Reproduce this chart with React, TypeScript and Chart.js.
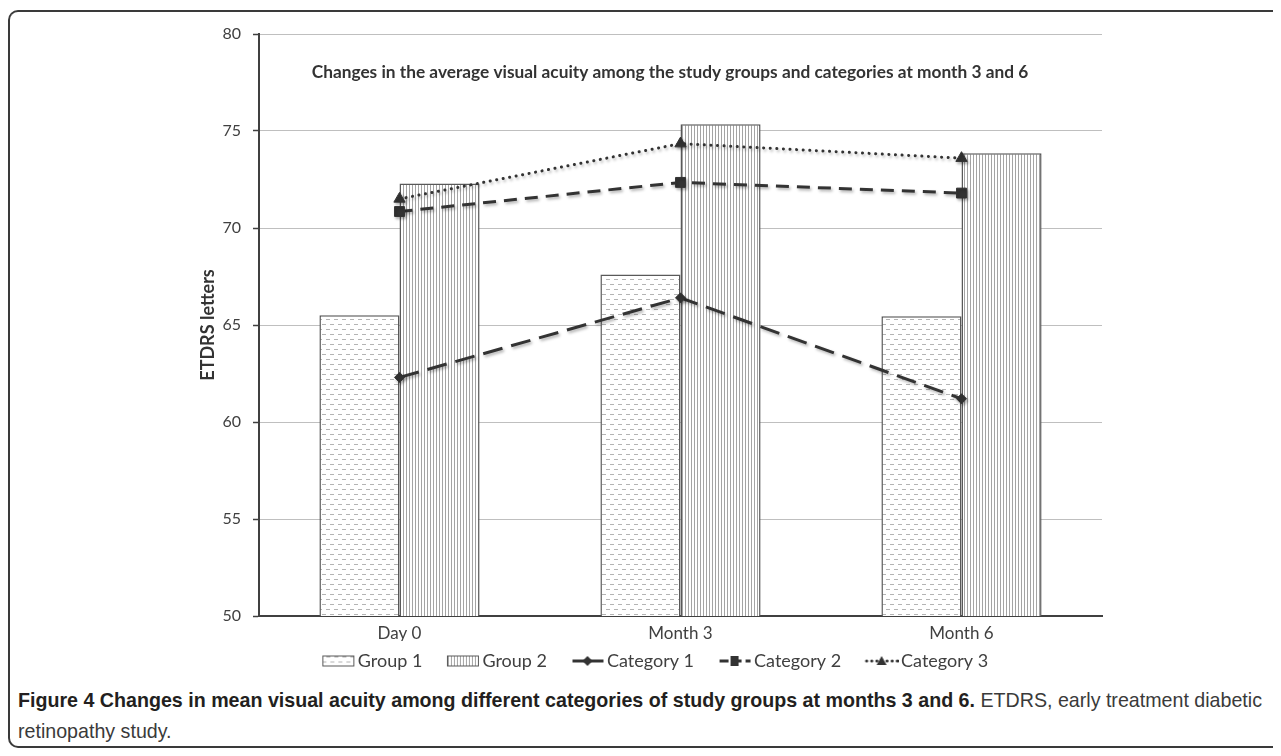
import React, { useEffect, useRef } from "react";
import { Chart, registerables } from "chart.js";

Chart.register(...registerables);

const categories = ["Day 0", "Month 3", "Month 6"];
const group1 = [65.5, 67.6, 65.45];
const group2 = [72.3, 75.35, 73.85];
const category1 = [62.3, 66.4, 61.2];
const category2 = [70.85, 72.35, 71.8];
const category3 = [71.5, 74.35, 73.6];
const yTicks = [50, 55, 60, 65, 70, 75, 80];
const seriesLabels = ["Group 1", "Group 2", "Category 1", "Category 2", "Category 3"];
const chartTitle =
  "Changes in the average visual acuity among the study groups and categories at month 3 and 6";
const yAxisTitle = "ETDRS letters";
const captionBold =
  "Figure 4 Changes in mean visual acuity among different categories of study groups at months 3 and 6.";
const captionLine1 = " ETDRS, early treatment diabetic";
const captionLine2 = "retinopathy study.";

const FONT = "Lato, 'Open Sans', sans-serif";
const TEXT = "#404040";
const LINE = "#333333";

function makeDashPattern(): CanvasPattern {
  const c = document.createElement("canvas");
  c.width = 8;
  c.height = 10;
  const g = c.getContext("2d")!;
  g.fillStyle = "#ffffff";
  g.fillRect(0, 0, 8, 10);
  g.fillStyle = "#b4b4b4";
  g.fillRect(0, 2, 4, 1);
  g.fillRect(4, 7, 4, 1);
  return g.createPattern(c, "repeat")!;
}

function makeStripePattern(): CanvasPattern {
  const c = document.createElement("canvas");
  c.width = 3;
  c.height = 4;
  const g = c.getContext("2d")!;
  g.fillStyle = "#ffffff";
  g.fillRect(0, 0, 3, 4);
  g.fillStyle = "#a4a4a4";
  g.fillRect(0, 0, 1, 4);
  return g.createPattern(c, "repeat")!;
}

// legend symbol images: 53px wide, symbol drawn in the right-most 34px
const IMG_W = 53;
const SYM_X = IMG_W - 34;

function legendBox(pattern: CanvasPattern): HTMLCanvasElement {
  const c = document.createElement("canvas");
  c.width = IMG_W;
  c.height = 13;
  const g = c.getContext("2d")!;
  g.fillStyle = pattern;
  g.fillRect(SYM_X + 1, 1, 32, 11);
  g.strokeStyle = "#595959";
  g.lineWidth = 1;
  g.strokeRect(SYM_X + 1.5, 1.5, 31, 10);
  return c;
}

function legendLine(dash: number[], cap: CanvasLineCap, marker: string): HTMLCanvasElement {
  const c = document.createElement("canvas");
  c.width = IMG_W;
  c.height = 16;
  const g = c.getContext("2d")!;
  const cx = SYM_X + 17;
  g.strokeStyle = LINE;
  g.fillStyle = LINE;
  g.lineWidth = 3;
  g.lineCap = cap;
  g.setLineDash(dash);
  g.beginPath();
  g.moveTo(SYM_X + 2, 8);
  g.lineTo(SYM_X + 33, 8);
  g.stroke();
  g.setLineDash([]);
  g.beginPath();
  if (marker === "diamond") {
    g.moveTo(cx, 3);
    g.lineTo(cx + 5, 8);
    g.lineTo(cx, 13);
    g.lineTo(cx - 5, 8);
  } else if (marker === "square") {
    g.rect(cx - 4, 3, 8, 10);
  } else {
    g.moveTo(cx, 3);
    g.lineTo(cx + 5, 12);
    g.lineTo(cx - 5, 12);
  }
  g.closePath();
  g.fill();
  return c;
}

const innerTitlePlugin = {
  id: "innerTitle",
  afterDatasetsDraw(chart: any) {
    const { ctx, chartArea } = chart;
    ctx.save();
    ctx.font = `bold 17.3px ${FONT}`;
    ctx.fillStyle = "#333333";
    ctx.textAlign = "center";
    ctx.textBaseline = "middle";
    ctx.fillText(chartTitle, chartArea.left + chartArea.width * 0.4875, chartArea.top + 38);
    ctx.restore();
  },
};

const lineShadowPlugin = {
  id: "lineShadow",
  beforeDatasetDraw(chart: any, args: any) {
    if (chart.data.datasets[args.index].type === "line") {
      const ctx = chart.ctx;
      ctx.save();
      ctx.shadowColor = "rgba(0,0,0,0.3)";
      ctx.shadowBlur = 3;
      ctx.shadowOffsetX = 1.5;
      ctx.shadowOffsetY = 2;
    }
  },
  afterDatasetDraw(chart: any, args: any) {
    if (chart.data.datasets[args.index].type === "line") {
      chart.ctx.restore();
    }
  },
};

export default function App() {
  const canvasRef = useRef<HTMLCanvasElement | null>(null);
  const captionRef = useRef<HTMLDivElement | null>(null);
  const line1Ref = useRef<HTMLSpanElement | null>(null);

  useEffect(() => {
    const fit = () => {
      const cap = captionRef.current;
      const l1 = line1Ref.current;
      if (!cap || !l1) return;
      cap.style.transform = "none";
      const w = l1.getBoundingClientRect().width;
      if (w > 0) cap.style.transform = `scaleX(${1244 / w})`;
    };
    fit();
    (document as any).fonts?.ready?.then(fit);
  }, []);

  useEffect(() => {
    const canvas = canvasRef.current;
    if (!canvas) return;
    const dashPattern = makeDashPattern();
    const stripePattern = makeStripePattern();
    const legendImages = [
      legendBox(dashPattern),
      legendBox(stripePattern),
      legendLine([], "butt", "diamond"),
      legendLine([9, 4], "butt", "square"),
      legendLine([0.1, 5], "round", "triangle"),
    ];

    const lineBase = {
      type: "line" as const,
      borderColor: LINE,
      borderWidth: 3,
      pointBackgroundColor: LINE,
      pointBorderColor: LINE,
      pointBorderWidth: 1,
      fill: false,
      tension: 0,
      order: 1,
    };

    const chart = new Chart(canvas, {
      data: {
        labels: categories,
        datasets: [
          {
            type: "bar",
            label: seriesLabels[0],
            data: group1,
            backgroundColor: dashPattern as any,
            borderColor: "#595959",
            borderWidth: 1.5,
            categoryPercentage: 0.57,
            barPercentage: 1,
            order: 2,
          },
          {
            type: "bar",
            label: seriesLabels[1],
            data: group2,
            backgroundColor: stripePattern as any,
            borderColor: "#595959",
            borderWidth: 1.5,
            categoryPercentage: 0.57,
            barPercentage: 1,
            order: 2,
          },
          {
            ...lineBase,
            label: seriesLabels[2],
            data: category1,
            borderDash: [20, 9],
            pointStyle: "rectRot",
            pointRadius: 5,
          },
          {
            ...lineBase,
            label: seriesLabels[3],
            data: category2,
            borderDash: [13, 8],
            pointStyle: "rect",
            pointRadius: 7,
          },
          {
            ...lineBase,
            label: seriesLabels[4],
            data: category3,
            borderDash: [0.1, 6.5],
            borderCapStyle: "round",
            pointStyle: "triangle",
            pointRadius: 6.5,
          },
        ] as any,
      },
      options: {
        responsive: false,
        animation: false,
        events: [],
        layout: { padding: { left: 185, right: 168, top: 22, bottom: 0 } },
        scales: {
          x: {
            grid: { display: false, drawTicks: false },
            border: { display: true, color: TEXT, width: 2 },
            ticks: { color: TEXT, font: { family: FONT, size: 17 }, padding: 7 },
            afterFit: (scale: any) => {
              scale.height = 25;
            },
          },
          y: {
            min: 50,
            max: 80,
            afterBuildTicks: (scale: any) => {
              scale.ticks = yTicks.map((v) => ({ value: v }));
            },
            afterFit: (scale: any) => {
              scale.width = 64;
            },
            ticks: { color: TEXT, font: { family: FONT, size: 16 }, padding: 12 },
            grid: {
              color: "#bfbfbf",
              lineWidth: 1,
              tickLength: 6,
              tickColor: TEXT,
              tickWidth: 1.5,
            },
            border: { color: TEXT, width: 2 },
            title: {
              display: true,
              text: yAxisTitle,
              color: "#333333",
              font: { family: FONT, size: 18, weight: "bold" },
              padding: { top: 2, bottom: 0 },
            },
          },
        },
        plugins: {
          tooltip: { enabled: false },
          legend: {
            position: "bottom",
            labels: {
              usePointStyle: true,
              pointStyleWidth: 40,
              padding: 11,
              color: TEXT,
              font: { family: FONT, size: 18 },
              generateLabels: () =>
                seriesLabels.map((text, i) => ({
                  text,
                  pointStyle: legendImages[i] as any,
                  datasetIndex: i,
                  hidden: false,
                  fillStyle: "transparent",
                  strokeStyle: "transparent",
                  lineWidth: 0,
                  fontColor: TEXT,
                })),
            },
          },
        },
      } as any,
      plugins: [innerTitlePlugin, lineShadowPlugin],
    });

    return () => chart.destroy();
  }, []);

  return (
    <div style={{ paddingTop: 2 }}>
      <div
        style={{
          position: "relative",
          marginRight: -8,
          height: 738,
          boxSizing: "border-box",
          border: "2px solid #3a3a3a",
          borderRight: "none",
          borderTopLeftRadius: 10,
          borderBottomLeftRadius: 10,
          background: "#ffffff",
          overflow: "hidden",
        }}
      >
        <canvas ref={canvasRef} width={1260} height={668} style={{ display: "block" }} />
        <div
          ref={captionRef}
          style={{
            marginTop: 4,
            marginLeft: 8,
            fontFamily: "'Liberation Sans', Arial, sans-serif",
            fontSize: 21,
            lineHeight: "31px",
            color: "#231f20",
            whiteSpace: "nowrap",
            transformOrigin: "0 0",
            width: "max-content",
          }}
        >
          <span ref={line1Ref}>
            <b>{captionBold}</b>
            <span style={{ color: "#3a3a3a" }}>{captionLine1}</span>
          </span>
          <br />
          <span style={{ color: "#3a3a3a" }}>{captionLine2}</span>
        </div>
      </div>
    </div>
  );
}
